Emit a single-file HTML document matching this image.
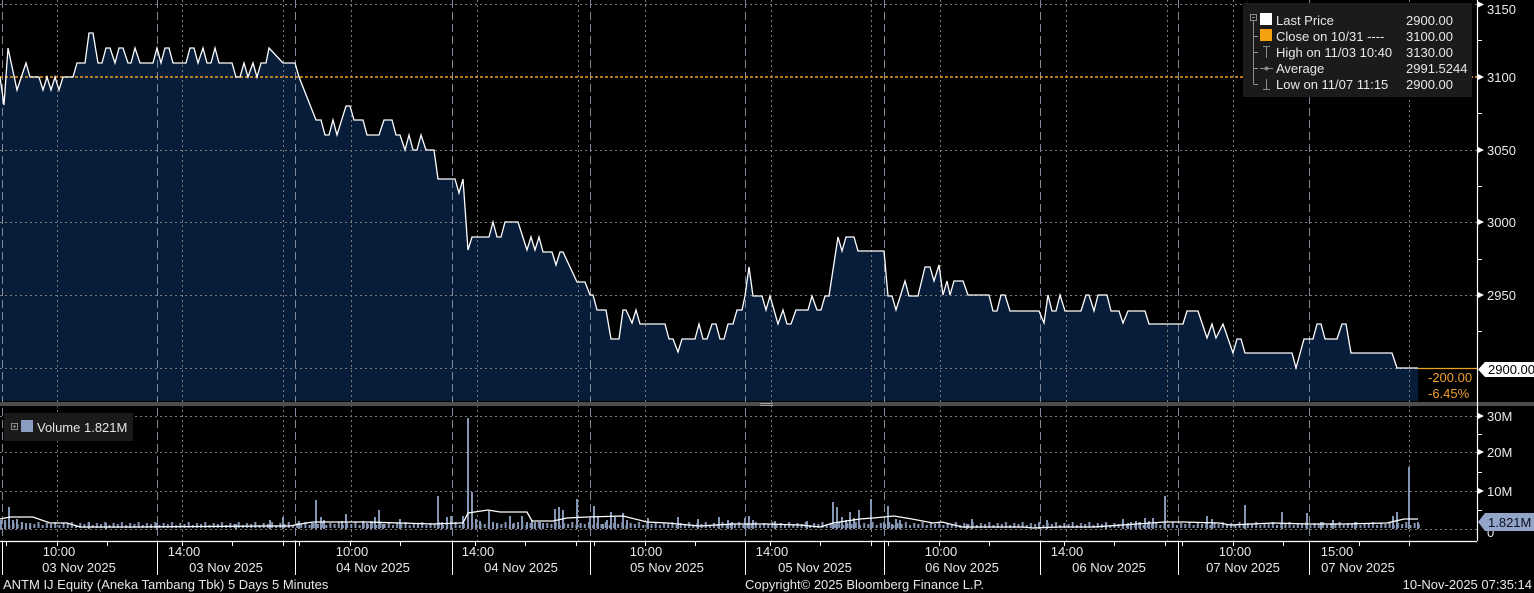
<!DOCTYPE html>
<html><head><meta charset="utf-8"><style>
html,body{margin:0;padding:0;background:#000;}
svg{display:block;}
text{font-family:"Liberation Sans",Arial,sans-serif;}
</style></head><body>
<svg width="1534" height="593" viewBox="0 0 1534 593" xmlns="http://www.w3.org/2000/svg">
<defs>
<pattern id="vb" x="0" y="0" width="16.68" height="12" patternUnits="userSpaceOnUse">
<rect x="0" y="8" width="2" height="4" fill="#8596b5"/>
<rect x="4.17" y="6" width="2" height="6" fill="#8596b5"/>
<rect x="8.34" y="9" width="2" height="3" fill="#8596b5"/>
<rect x="12.51" y="7" width="2" height="5" fill="#8596b5"/>
</pattern>
</defs>
<rect x="0" y="0" width="1534" height="593" fill="#000"/>

<!-- price fill -->
<path fill="#071d39" d="M0,401 L0,77 4,105 8,48 17,90 26,63 30,77 39,77 43,90 47,77 51,90 55,77 59,90 63,77 73,77 77,63 85,63 89,33 93,33 98,63 102,63 106,48 110,48 115,63 119,48 123,48 128,63 131,63 135,48 140,63 153,63 157,48 161,63 165,48 169,48 173,63 186,63 190,48 194,48 198,63 203,48 207,63 211,63 215,48 219,63 232,63 236,77 240,77 244,63 248,77 253,63 257,77 261,63 266,63 269,48 283,63 295,63 299,77 316,120 321,120 325,135 329,135 333,120 337,135 346,106 350,106 354,120 363,120 367,135 379,135 384,120 392,120 396,135 400,135 405,150 409,135 413,150 417,150 421,135 426,150 434,150 438,179 455,179 459,193 463,179 468,250 472,237 489,237 493,222 497,237 501,237 505,222 518,222 527,250 531,237 535,250 539,237 543,252 552,252 556,265 560,252 563,252 577,282 585,282 590,295 593,295 597,310 606,310 611,339 619,339 623,310 626,310 632,323 636,310 640,324 665,324 669,339 673,339 678,352 682,339 695,339 699,324 703,339 707,339 712,324 716,324 720,339 724,339 728,324 733,324 737,310 742,310 745,296 749,267 753,296 762,296 766,310 770,296 778,324 783,310 787,324 791,324 796,310 808,310 812,296 817,310 821,310 825,296 829,296 838,237 842,251 846,237 854,237 858,251 884,251 888,296 892,296 896,310 905,281 909,296 918,296 925,267 930,267 934,281 939,265 943,295 947,281 950,295 954,281 963,281 968,295 989,295 993,311 997,311 1001,295 1005,295 1010,311 1039,311 1044,323 1048,295 1052,311 1056,311 1060,295 1065,311 1081,311 1086,295 1089,295 1094,311 1098,295 1107,295 1111,311 1119,311 1123,323 1128,311 1145,311 1149,324 1183,324 1187,311 1198,311 1207,338 1212,324 1216,338 1223,324 1233,353 1237,339 1241,339 1245,353 1292,353 1296,368 1304,339 1313,339 1317,324 1321,324 1325,339 1337,339 1342,324 1346,324 1351,353 1392,353 1397,368 1418,368 L1418,401 Z"/>

<!-- horizontal dotted grid -->
<g stroke="#7a7a7a" stroke-width="1" stroke-dasharray="2,3" fill="none">
<line x1="0" y1="4.5" x2="1477" y2="4.5"/>
<line x1="0" y1="150.5" x2="1477" y2="150.5"/>
<line x1="0" y1="222.5" x2="1477" y2="222.5"/>
<line x1="0" y1="295.5" x2="1477" y2="295.5"/>
<line x1="0" y1="368.5" x2="1418" y2="368.5"/>
<line x1="0" y1="416.5" x2="1477" y2="416.5"/>
<line x1="0" y1="452.5" x2="1477" y2="452.5"/>
<line x1="0" y1="491.5" x2="1477" y2="491.5"/>
<line x1="0" y1="529.5" x2="1477" y2="529.5"/>
</g>
<!-- vertical dashed grid -->
<g stroke="#7e8898" stroke-width="1" stroke-dasharray="8,4" fill="none">
<line x1="2.5" y1="0" x2="2.5" y2="541"/>
<line x1="157.5" y1="0" x2="157.5" y2="541"/>
<line x1="295.5" y1="0" x2="295.5" y2="541"/>
<line x1="452.5" y1="0" x2="452.5" y2="541"/>
<line x1="590.5" y1="0" x2="590.5" y2="541"/>
<line x1="745.5" y1="0" x2="745.5" y2="541"/>
<line x1="884.5" y1="0" x2="884.5" y2="541"/>
<line x1="1040.5" y1="0" x2="1040.5" y2="541"/>
<line x1="1178.5" y1="0" x2="1178.5" y2="541"/>
<line x1="1309.5" y1="0" x2="1309.5" y2="541"/>
</g>
<!-- vertical dotted grid -->
<g stroke="#7a7a7a" stroke-width="1" stroke-dasharray="2,3" fill="none">
<line x1="57.5" y1="0" x2="57.5" y2="541"/>
<line x1="182.5" y1="0" x2="182.5" y2="541"/>
<line x1="283.5" y1="0" x2="283.5" y2="541"/>
<line x1="351.5" y1="0" x2="351.5" y2="541"/>
<line x1="477.5" y1="0" x2="477.5" y2="541"/>
<line x1="578.5" y1="0" x2="578.5" y2="541"/>
<line x1="645.5" y1="0" x2="645.5" y2="541"/>
<line x1="771.5" y1="0" x2="771.5" y2="541"/>
<line x1="871.5" y1="0" x2="871.5" y2="541"/>
<line x1="940.5" y1="0" x2="940.5" y2="541"/>
<line x1="1066.5" y1="0" x2="1066.5" y2="541"/>
<line x1="1167.5" y1="0" x2="1167.5" y2="541"/>
<line x1="1233.5" y1="0" x2="1233.5" y2="541"/>
<line x1="1409.5" y1="0" x2="1409.5" y2="541"/>
</g>

<!-- orange close line -->
<line x1="0" y1="77" x2="1477" y2="77" stroke="#f0a020" stroke-width="1.6" stroke-dasharray="3,2"/>

<!-- price line -->
<polyline fill="none" stroke="#ffffff" stroke-width="1.3" stroke-linejoin="miter" points="0,77 4,105 8,48 17,90 26,63 30,77 39,77 43,90 47,77 51,90 55,77 59,90 63,77 73,77 77,63 85,63 89,33 93,33 98,63 102,63 106,48 110,48 115,63 119,48 123,48 128,63 131,63 135,48 140,63 153,63 157,48 161,63 165,48 169,48 173,63 186,63 190,48 194,48 198,63 203,48 207,63 211,63 215,48 219,63 232,63 236,77 240,77 244,63 248,77 253,63 257,77 261,63 266,63 269,48 283,63 295,63 299,77 316,120 321,120 325,135 329,135 333,120 337,135 346,106 350,106 354,120 363,120 367,135 379,135 384,120 392,120 396,135 400,135 405,150 409,135 413,150 417,150 421,135 426,150 434,150 438,179 455,179 459,193 463,179 468,250 472,237 489,237 493,222 497,237 501,237 505,222 518,222 527,250 531,237 535,250 539,237 543,252 552,252 556,265 560,252 563,252 577,282 585,282 590,295 593,295 597,310 606,310 611,339 619,339 623,310 626,310 632,323 636,310 640,324 665,324 669,339 673,339 678,352 682,339 695,339 699,324 703,339 707,339 712,324 716,324 720,339 724,339 728,324 733,324 737,310 742,310 745,296 749,267 753,296 762,296 766,310 770,296 778,324 783,310 787,324 791,324 796,310 808,310 812,296 817,310 821,310 825,296 829,296 838,237 842,251 846,237 854,237 858,251 884,251 888,296 892,296 896,310 905,281 909,296 918,296 925,267 930,267 934,281 939,265 943,295 947,281 950,295 954,281 963,281 968,295 989,295 993,311 997,311 1001,295 1005,295 1010,311 1039,311 1044,323 1048,295 1052,311 1056,311 1060,295 1065,311 1081,311 1086,295 1089,295 1094,311 1098,295 1107,295 1111,311 1119,311 1123,323 1128,311 1145,311 1149,324 1183,324 1187,311 1198,311 1207,338 1212,324 1216,338 1223,324 1233,353 1237,339 1241,339 1245,353 1292,353 1296,368 1304,339 1313,339 1317,324 1321,324 1325,339 1337,339 1342,324 1346,324 1351,353 1392,353 1397,368 1418,368"/>

<!-- change box -->
<rect x="1418" y="369" width="59" height="33" fill="#000"/>
<line x1="1418" y1="368.5" x2="1477" y2="368.5" stroke="#f0a020" stroke-width="1.2"/>
<text x="1428" y="382" font-size="13" fill="#f0a030">-200.00</text>
<text x="1428" y="398" font-size="13" fill="#f0a030">-6.45%</text>

<!-- separator bar -->
<rect x="0" y="402" width="1534" height="4" fill="#4d4d4d"/>
<rect x="760" y="403" width="13" height="1" fill="#9a9a9a"/>
<rect x="760" y="405" width="13" height="1" fill="#9a9a9a"/>

<!-- volume bars -->
<rect x="0" y="517" width="1420" height="12" fill="url(#vb)"/>
<path stroke="#8596b5" stroke-width="2" fill="none" d="M1,529V520M5,529V520M9,529V507M13,529V520M17,529V519M22,529V522M26,529V523M30,529V525M89,529V522M106,529V523M157,529V523M236,529V524M270,529V520M283,529V517M299,529V521M312,529V523M316,529V500M321,529V517M324,529V520M342,529V521M346,529V514M363,529V521M367,529V523M371,529V521M375,529V517M379,529V510M383,529V524M400,529V519M438,529V496M442,529V522M447,529V517M451,529V516M463,529V516M468,529V418M472,529V492M476,529V519M480,529V521M489,529V511M493,529V522M497,529V523M510,529V516M513,529V524M518,529V522M522,529V516M527,529V522M532,529V520M535,529V522M540,529V522M543,529V523M555,529V509M559,529V507M563,529V510M577,529V499M590,529V518M594,529V506M598,529V516M603,529V524M607,529V520M611,529V512M615,529V517M623,529V513M627,529V520M648,529V518M678,529V517M698,529V519M719,529V517M728,529V520M732,529V522M745,529V518M749,529V516M753,529V520M775,529V521M807,529V521M833,529V502M837,529V507M842,529V517M846,529V520M850,529V512M854,529V518M859,529V510M871,529V499M884,529V522M888,529V506M892,529V524M896,529V519M900,529V520M967,529V524M972,529V519M1039,529V523M1047,529V520M1106,529V524M1123,529V519M1128,529V523M1131,529V522M1136,529V521M1140,529V522M1145,529V518M1149,529V521M1153,529V518M1165,529V496M1207,529V516M1212,529V519M1245,529V505M1282,529V512M1307,529V513M1321,529V522M1333,529V520M1355,529V522M1393,529V516M1397,529V512M1409,529V467M1418,529V522"/>
<!-- volume MA -->
<polyline fill="none" stroke="#ffffff" stroke-width="1.3" points="0,519 10,517 33,517 50,523 67,523 80,527 133,527 267,526 290,526 300,524 313,522 333,522 367,522 400,523 433,524 460,523 463,523 468,513 488,510 500,512 527,512 532,521 553,521 567,518 587,517 623,516 647,522 667,523 700,526 733,524 767,524 800,525 820,527 833,523 860,519 873,518 884,517 894,516 912,519 933,523 942,522 962,527 1023,527 1033,528 1058,527 1094,527 1122,525 1165,522 1183,522 1219,523 1230,525 1273,523 1308,524 1344,524 1387,523 1404,519 1418,519"/>

<!-- volume legend -->
<rect x="4" y="413" width="129" height="28" fill="#1a1a1a"/>
<rect x="11.5" y="423.5" width="6" height="6" fill="none" stroke="#888" stroke-width="1"/>
<line x1="13" y1="426.5" x2="16" y2="426.5" stroke="#888"/>
<line x1="14.5" y1="425" x2="14.5" y2="428" stroke="#888"/>
<rect x="21" y="420" width="12" height="12" fill="#8a9cc0"/>
<text x="37" y="432" font-size="13" fill="#e6e6e6">Volume  1.821M</text>

<!-- x axis -->
<line x1="0" y1="541.5" x2="1477" y2="541.5" stroke="#ffffff" stroke-width="1.2"/>
<g stroke="#ffffff" stroke-width="1">
<line x1="2.5" y1="541" x2="2.5" y2="575"/>
<line x1="157.5" y1="541" x2="157.5" y2="575"/>
<line x1="295.5" y1="541" x2="295.5" y2="575"/>
<line x1="452.5" y1="541" x2="452.5" y2="575"/>
<line x1="590.5" y1="541" x2="590.5" y2="575"/>
<line x1="745.5" y1="541" x2="745.5" y2="575"/>
<line x1="884.5" y1="541" x2="884.5" y2="575"/>
<line x1="1040.5" y1="541" x2="1040.5" y2="575"/>
<line x1="1178.5" y1="541" x2="1178.5" y2="575"/>
<line x1="1309.5" y1="541" x2="1309.5" y2="575"/>
</g>
<path stroke="#ffffff" stroke-width="1" fill="none" d="M6.5,541v5M57.5,541v5M107.5,541v5M182.5,541v5M232.5,541v5M283.5,541v5M299.5,541v5M350.5,541v5M400.5,541v5M475.5,541v5M525.5,541v5M576.5,541v5M594.5,541v5M645.5,541v5M695.5,541v5M770.5,541v5M820.5,541v5M871.5,541v5M888.5,541v5M939.5,541v5M989.5,541v5M1064.5,541v5M1114.5,541v5M1165.5,541v5M1182.5,541v5M1233.5,541v5M1283.5,541v5M1359.5,541v5M1409.5,541v5"/>
<g font-size="13" fill="#e8e8e8" text-anchor="middle">
<text x="59" y="556">10:00</text><text x="79" y="572">03 Nov 2025</text>
<text x="184" y="556">14:00</text><text x="226" y="572">03 Nov 2025</text>
<text x="352" y="556">10:00</text><text x="373" y="572">04 Nov 2025</text>
<text x="478" y="556">14:00</text><text x="521" y="572">04 Nov 2025</text>
<text x="646" y="556">10:00</text><text x="667" y="572">05 Nov 2025</text>
<text x="772" y="556">14:00</text><text x="815" y="572">05 Nov 2025</text>
<text x="941" y="556">10:00</text><text x="962" y="572">06 Nov 2025</text>
<text x="1067" y="556">14:00</text><text x="1109" y="572">06 Nov 2025</text>
<text x="1235" y="556">10:00</text><text x="1243" y="572">07 Nov 2025</text>
<text x="1337" y="556">15:00</text><text x="1358" y="572">07 Nov 2025</text>
</g>

<!-- right axis -->
<line x1="1477.5" y1="0" x2="1477.5" y2="541" stroke="#ffffff" stroke-width="1.2"/>
<g fill="#ffffff">
<polygon points="1477,1 1484,4.5 1477,8"/>
<polygon points="1477,73.5 1484,77 1477,80.5"/>
<polygon points="1477,146.5 1484,150 1477,153.5"/>
<polygon points="1477,218.5 1484,222 1477,225.5"/>
<polygon points="1477,291.5 1484,295 1477,298.5"/>
<polygon points="1477,412.5 1484,416 1477,419.5"/>
<polygon points="1477,448.5 1484,452 1477,455.5"/>
<polygon points="1477,487.5 1484,491 1477,494.5"/>
</g>
<path stroke="#ffffff" stroke-width="1" d="M1477,40.5h5M1477,113.5h5M1477,186.5h5M1477,259.5h5M1477,331.5h5M1477,434.5h5M1477,472.5h5M1477,510.5h5"/>
<g font-size="13" fill="#e8e8e8">
<text x="1487" y="14">3150</text>
<text x="1487" y="82">3100</text>
<text x="1487" y="155">3050</text>
<text x="1487" y="227">3000</text>
<text x="1487" y="300">2950</text>
<text x="1487" y="421">30M</text>
<text x="1487" y="457">20M</text>
<text x="1487" y="496">10M</text>
<text x="1487" y="537">0</text>
</g>
<polygon points="1478,369.5 1485,362 1534,362 1534,377 1485,377" fill="#ffffff"/>
<text x="1488" y="374" font-size="13" fill="#000">2900.00</text>
<polygon points="1478,522 1485,513 1534,513 1534,531 1485,531" fill="#93a5c8"/>
<text x="1488" y="527" font-size="13" fill="#0a0f1e">1.821M</text>

<!-- price legend -->
<rect x="1243" y="3" width="229" height="94" fill="#1b1b1b"/>
<g stroke="#8a8a8a" stroke-width="1" fill="none">
<rect x="1250.5" y="14.5" width="6" height="6"/>
<line x1="1252" y1="17.5" x2="1255" y2="17.5"/>
<line x1="1253.5" y1="21" x2="1253.5" y2="84"/>
<line x1="1253.5" y1="36.5" x2="1258" y2="36.5"/>
<line x1="1253.5" y1="52.5" x2="1258" y2="52.5"/>
<line x1="1253.5" y1="68.5" x2="1258" y2="68.5"/>
<line x1="1253.5" y1="84.5" x2="1258" y2="84.5"/>
<line x1="1266.5" y1="46" x2="1266.5" y2="58"/>
<line x1="1263" y1="46.5" x2="1270" y2="46.5"/>
<line x1="1260" y1="68.5" x2="1273" y2="68.5"/>
<line x1="1266.5" y1="79" x2="1266.5" y2="90"/>
<line x1="1263" y1="89.5" x2="1270" y2="89.5"/>
</g>
<circle cx="1266.5" cy="68.5" r="2" fill="#8a8a8a"/>
<rect x="1260" y="13" width="12" height="12" fill="#ffffff"/>
<rect x="1260" y="29" width="12" height="12" fill="#f5a00f"/>
<g font-size="13" fill="#e8e8e8">
<text x="1276" y="25">Last Price</text><text x="1406" y="25">2900.00</text>
<text x="1276" y="41">Close on 10/31 ----</text><text x="1406" y="41">3100.00</text>
<text x="1276" y="57">High on 11/03 10:40</text><text x="1406" y="57">3130.00</text>
<text x="1276" y="73">Average</text><text x="1406" y="73">2991.5244</text>
<text x="1276" y="89">Low on 11/07 11:15</text><text x="1406" y="89">2900.00</text>
</g>

<!-- footer -->
<g font-size="13" fill="#e8e8e8">
<text x="3" y="589">ANTM IJ Equity (Aneka Tambang Tbk) 5 Days 5 Minutes</text>
<text x="745" y="589">Copyright© 2025 Bloomberg Finance L.P.</text>
<text x="1532" y="589" text-anchor="end">10-Nov-2025 07:35:14</text>
</g>
</svg>
</body></html>
